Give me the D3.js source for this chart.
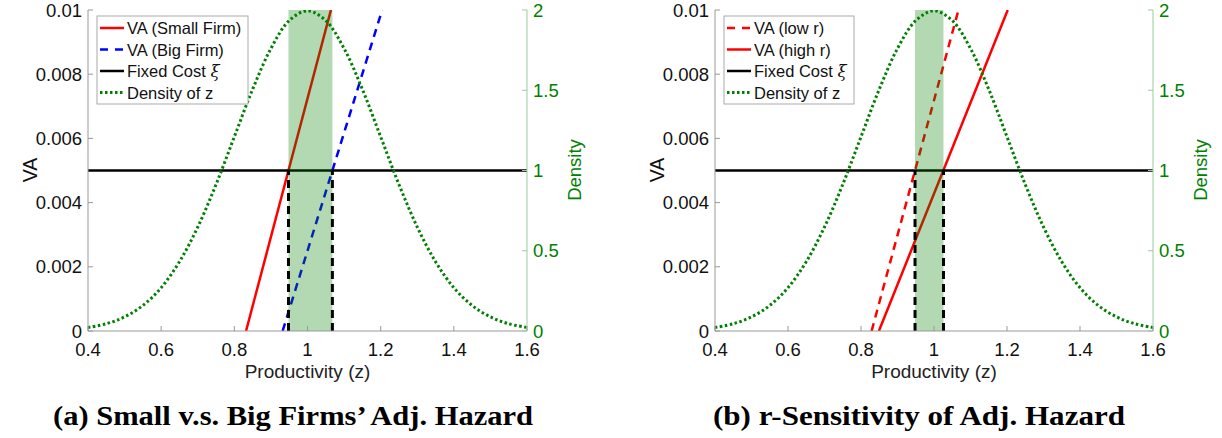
<!DOCTYPE html>
<html><head><meta charset="utf-8">
<script src="https://cdn.jsdelivr.net/npm/d3@7"></script>
<style>html,body{margin:0;padding:0;background:#fff;}svg{display:block;}</style>
</head><body>
<svg id="chart" width="1222" height="438"></svg>
<script>
// ---- data ----
const zGrid = [0.40,0.45,0.50,0.55,0.60,0.65,0.70,0.75,0.80,0.85,0.90,0.95,1.00,1.05,1.10,1.15,1.20,1.25,1.30,1.35,1.40,1.45,1.50,1.55,1.60];
const densityZ = [0.022,0.045,0.088,0.159,0.270,0.432,0.648,0.913,1.210,1.506,1.760,1.934,1.995,1.934,1.760,1.506,1.210,0.913,0.648,0.432,0.270,0.159,0.088,0.045,0.022];
const fixedCost = 0.005;
// VA lines: [z, VA] end points
const vaSmallFirm = [[0.832,0],[1.064,0.01]];
const vaBigFirm   = [[0.932,0],[1.204,0.01]];
const vaLowR      = [[0.829,0],[1.067,0.01]];
const vaHighR     = [[0.849,0],[1.202,0.01]];
// shaded threshold bands
const bandA = [0.948,1.068];
const bandB = [0.948,1.026];
const xTicks = [0.4,0.6,0.8,1,1.2,1.4,1.6];
const yTicks = [0,0.002,0.004,0.006,0.008,0.01];
const y2Ticks = [0,0.5,1,1.5,2];
const legendA = ["VA (Small Firm)","VA (Big Firm)","Fixed Cost ","Density of z"];
const legendB = ["VA (low r)","VA (high r)","Fixed Cost ","Density of z"];
const captionA = "(a) Small v.s. Big Firms\u2019 Adj. Hazard";
const captionB = "(b) r-Sensitivity of Adj. Hazard";

const svg = d3.select("#chart");
const GREEN = "#008000";
const SANS = "'Liberation Sans', Arial, sans-serif";

function panel(cfg){
  const x = d3.scaleLinear().domain([0.4,1.6]).range([cfg.x0,cfg.x1]);
  const y = d3.scaleLinear().domain([0,0.01]).range([331,10]);
  const y2 = d3.scaleLinear().domain([0,2]).range([331,10]);
  const g = svg.append("g");
  const clipId = "clip"+cfg.id;
  svg.append("defs").append("clipPath").attr("id",clipId)
    .append("rect").attr("x",cfg.x0).attr("y",10).attr("width",cfg.x1-cfg.x0).attr("height",321);
  const plot = g.append("g").attr("clip-path",`url(#${clipId})`);
  const line = d3.line().x(d=>x(d[0])).y(d=>y(d[1]));

  cfg.lines.forEach(l=>{
    plot.append("path").datum(l.data).attr("d",line)
      .attr("fill","none").attr("stroke",l.color).attr("stroke-width",2.5)
      .attr("stroke-dasharray",l.dash||null);
  });
  plot.append("line").attr("x1",x(0.4)).attr("x2",x(1.6)).attr("y1",y(fixedCost)).attr("y2",y(fixedCost))
    .attr("stroke","#000").attr("stroke-width",2.5);
  plot.append("rect").attr("x",x(cfg.band[0])).attr("width",x(cfg.band[1])-x(cfg.band[0]))
    .attr("y",y2(2)).attr("height",y2(0)-y2(2)).attr("fill",GREEN).attr("fill-opacity",0.3);
  cfg.band.forEach(b=>{
    plot.append("line").attr("x1",x(b)).attr("x2",x(b)).attr("y1",y(0)).attr("y2",y(fixedCost))
      .attr("stroke","#000").attr("stroke-width",3).attr("stroke-dasharray","8,5");
  });
  const dl = d3.line().x((d,i)=>x(zGrid[i])).y(d=>y2(d)).curve(d3.curveCatmullRom);
  plot.append("path").datum(densityZ).attr("d",dl).attr("fill","none")
    .attr("stroke",GREEN).attr("stroke-width",3).attr("stroke-dasharray","2.5,2.5");

  const ax = g.append("g").attr("font-family",SANS);
  ax.append("line").attr("x1",x(0.4)).attr("x2",x(1.6)).attr("y1",331).attr("y2",331).attr("stroke","#999");
  ax.append("line").attr("x1",x(0.4)).attr("x2",x(0.4)).attr("y1",10).attr("y2",331).attr("stroke","#999");
  ax.append("line").attr("x1",x(1.6)).attr("x2",x(1.6)).attr("y1",10).attr("y2",331).attr("stroke","#9c9");
  xTicks.forEach(t=>{
    ax.append("line").attr("x1",x(t)).attr("x2",x(t)).attr("y1",331).attr("y2",326).attr("stroke","#999");
    ax.append("text").attr("x",x(t)).attr("y",356).attr("text-anchor","middle")
      .attr("font-size",18.5).attr("fill","#111").text(d3.format("~g")(t));
  });
  yTicks.forEach(t=>{
    ax.append("line").attr("x1",x(0.4)).attr("x2",x(0.4)+5).attr("y1",y(t)).attr("y2",y(t)).attr("stroke","#999");
    ax.append("text").attr("x",x(0.4)-6).attr("y",y(t)+6.5).attr("text-anchor","end")
      .attr("font-size",18.5).attr("fill","#111").text(d3.format("~g")(t));
  });
  y2Ticks.forEach(t=>{
    ax.append("line").attr("x1",x(1.6)).attr("x2",x(1.6)-5).attr("y1",y2(t)).attr("y2",y2(t)).attr("stroke","#9c9");
    ax.append("text").attr("x",x(1.6)+6).attr("y",y2(t)+6.5).attr("text-anchor","start")
      .attr("font-size",18.5).attr("fill",GREEN).text(d3.format("~g")(t));
  });
  ax.append("text").attr("x",(cfg.x0+cfg.x1)/2).attr("y",378).attr("text-anchor","middle")
    .attr("font-size",19).attr("fill","#222").text("Productivity (z)");
  ax.append("text").attr("transform",`translate(${cfg.x0-51},170) rotate(-90)`).attr("text-anchor","middle")
    .attr("font-size",19.5).attr("fill","#111").text("VA");
  ax.append("text").attr("transform",`translate(${cfg.x1+54},170) rotate(-90)`).attr("text-anchor","middle")
    .attr("font-size",18.5).attr("fill",GREEN).text("Density");

  const lg = g.append("g").attr("font-family",SANS);
  const lx = cfg.x0+9, ly = 16;
  lg.append("rect").attr("x",lx).attr("y",ly).attr("width",cfg.legW).attr("height",88)
    .attr("fill","#fff").attr("stroke","#aaa");
  const samples = [
    {color:cfg.lines[0].color, dash:cfg.lines[0].dash},
    {color:cfg.lines[1].color, dash:cfg.lines[1].dash},
    {color:"#000", dash:null},
    {color:GREEN, dash:"2.5,2.5", w:3}
  ];
  cfg.legend.forEach((txt,i)=>{
    const yy = ly+12+i*21.5;
    lg.append("line").attr("x1",lx+3).attr("x2",lx+27).attr("y1",yy).attr("y2",yy)
      .attr("stroke",samples[i].color).attr("stroke-width",samples[i].w||2.5)
      .attr("stroke-dasharray",samples[i].dash ? (samples[i].w?"2.5,2.5":"8,7") : null);
    const t = lg.append("text").attr("x",lx+30).attr("y",yy+6).attr("font-size",16.5).attr("fill","#111").text(txt);
    if(i===2) t.append("tspan").attr("font-family","'DejaVu Serif', serif").attr("font-style","italic").text("\u03be");
  });

  svg.append("text").attr("x",cfg.capX).attr("y",425).attr("text-anchor","middle")
    .attr("font-family","'Liberation Serif', 'DejaVu Serif', serif").attr("font-weight","bold")
    .attr("font-size",27).attr("fill","#000")
    .attr("textLength",cfg.capW).attr("lengthAdjust","spacingAndGlyphs").text(cfg.caption);
}

panel({id:"a", x0:88, x1:527, band:bandA, legend:legendA, legW:151, capX:293, capW:480, caption:captionA,
  lines:[{data:vaSmallFirm,color:"#ff0000"},{data:vaBigFirm,color:"#0000ff",dash:"8,6"}]});
panel({id:"b", x0:715, x1:1153, band:bandB, legend:legendB, legW:130, capX:919, capW:412, caption:captionB,
  lines:[{data:vaLowR,color:"#ff0000",dash:"8,6"},{data:vaHighR,color:"#ff0000"}]});
</script>
</body></html>
